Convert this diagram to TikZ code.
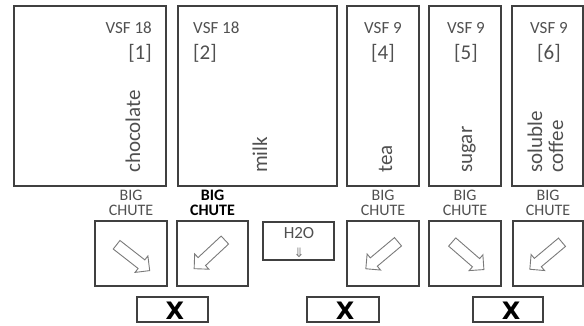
\documentclass[tikz,border=0pt]{standalone}
\usepackage{fontspec}
\setmainfont{Carlito}
\newfontfamily\symfont{DejaVu Sans}
\usetikzlibrary{positioning,shapes.arrows}
\definecolor{frame}{HTML}{404040}
\definecolor{ink}{HTML}{505050}
\definecolor{pale}{HTML}{7A7A7A}

\begin{document}
\begin{tikzpicture}[x=1pt,y=-1pt,font=\fontsize{17}{17}\selectfont,text=ink]
  \tikzset{canbox/.style={draw=frame,line width=1.4pt,minimum height=180pt,inner sep=0pt},
    chutebox/.style={draw=frame,line width=1.4pt,minimum width=72pt,minimum height=65pt,inner sep=0pt},
    sizelbl/.style={inner sep=0pt},
    numlbl/.style={inner sep=0pt,font=\fontsize{21}{21}\selectfont},
    prodlbl/.style={inner sep=0pt,font=\fontsize{21}{21}\selectfont,rotate=90,anchor=base west},
    chutelbl/.style={align=center,inner sep=0pt,font=\fontsize{16}{15}\selectfont},
    flowarrow/.style={shape=single arrow,draw=pale,line width=0.9pt,minimum height=42pt,inner xsep=0pt,inner ysep=5pt,single arrow head extend=5pt},
    crossmark/.style={inner sep=0pt,text=black,font=\symfont\bfseries\fontsize{24}{24}\selectfont}}
  \useasboundingbox (0,0) rectangle (584,325);
  % canisters
  \node[canbox,minimum width=152pt] (can1) at (90,96) {};
  \node[canbox,minimum width=159pt] (can2) at (257.5,96) {};
  \node[canbox,minimum width=72pt] (can4) at (383,96) {};
  \node[canbox,minimum width=72pt] (can5) at (465,96) {};
  \node[canbox,minimum width=71pt] (can6) at (547.5,96) {};
  \node[sizelbl,anchor=base east] (vsf1) at (152,33) {VSF 18};
  \node[numlbl,anchor=base east] (num1) at (152,59) {[1]};
  \node[sizelbl,anchor=base west] (vsf2) at (193,33) {VSF 18};
  \node[numlbl,anchor=base west] (num2) at (193,59) {[2]};
  \node[sizelbl,anchor=base] (vsf4) at (383,33) {VSF 9};
  \node[numlbl,anchor=base] (num4) at (383,59) {[4]};
  \node[sizelbl,anchor=base] (vsf5) at (466,33) {VSF 9};
  \node[numlbl,anchor=base] (num5) at (466,59) {[5]};
  \node[sizelbl,anchor=base] (vsf6) at (549,33) {VSF 9};
  \node[numlbl,anchor=base] (num6) at (549,59) {[6]};
  \node[prodlbl] (chocolate) at (140,173) {chocolate};
  \node[prodlbl] (milk) at (267,173) {milk};
  \node[prodlbl] (tea) at (392,173) {tea};
  \node[prodlbl] (sugar) at (472,173) {sugar};
  \node[prodlbl] (soluble) at (542,173) {soluble};
  \node[prodlbl] (coffee) at (563,173) {coffee};
  % chutes
  \node[chutebox] (chute1) at (131,253.5) {};
  \node[chutebox,minimum width=71pt] (chute2) at (212.5,253.5) {};
  \node[chutebox] (chute4) at (383,253.5) {};
  \node[chutebox] (chute5) at (465,253.5) {};
  \node[chutebox,minimum width=70pt] (chute6) at (548,253.5) {};
  \node[chutelbl,above=4pt of chute1] (big1) {BIG\\CHUTE};
  \node[chutelbl,above=4pt of chute2,text=black,font=\fontsize{16}{15}\selectfont\bfseries] (big2) {BIG\\CHUTE};
  \node[chutelbl,above=4pt of chute4] (big4) {BIG\\CHUTE};
  \node[chutelbl,above=4pt of chute5] (big5) {BIG\\CHUTE};
  \node[chutelbl,above=4pt of chute6] (big6) {BIG\\CHUTE};
  \node[flowarrow,rotate=-38] (arr1) at (131,256) {};
  \node[flowarrow,rotate=223] (arr2) at (211.5,252.5) {};
  \node[flowarrow,rotate=220] (arr4) at (384,253.5) {};
  \node[flowarrow,rotate=-41] (arr5) at (466,254) {};
  \node[flowarrow,rotate=220] (arr6) at (548,254) {};
  % water
  \node[chutebox,minimum width=71pt,minimum height=38pt] (water) at (298.5,241) {};
  \node[anchor=base,inner sep=0pt] (h2o) at (299,238) {H2O};
  \node[inner sep=0pt,text=pale,font=\symfont\fontsize{13}{13}\selectfont] (drip) at (299,253) {⇓};
  % stop buttons
  \node[chutebox,minimum width=71pt,minimum height=25pt] (stop1) at (172.5,309.5) {};
  \node[chutebox,minimum width=72pt,minimum height=25pt] (stop2) at (343,309.5) {};
  \node[chutebox,minimum width=70pt,minimum height=25pt] (stop3) at (508,309.5) {};
  \node[crossmark] (x1) at (175,311) {X};
  \node[crossmark] (x2) at (345,311) {X};
  \node[crossmark] (x3) at (511,311) {X};
\end{tikzpicture}
\end{document}
